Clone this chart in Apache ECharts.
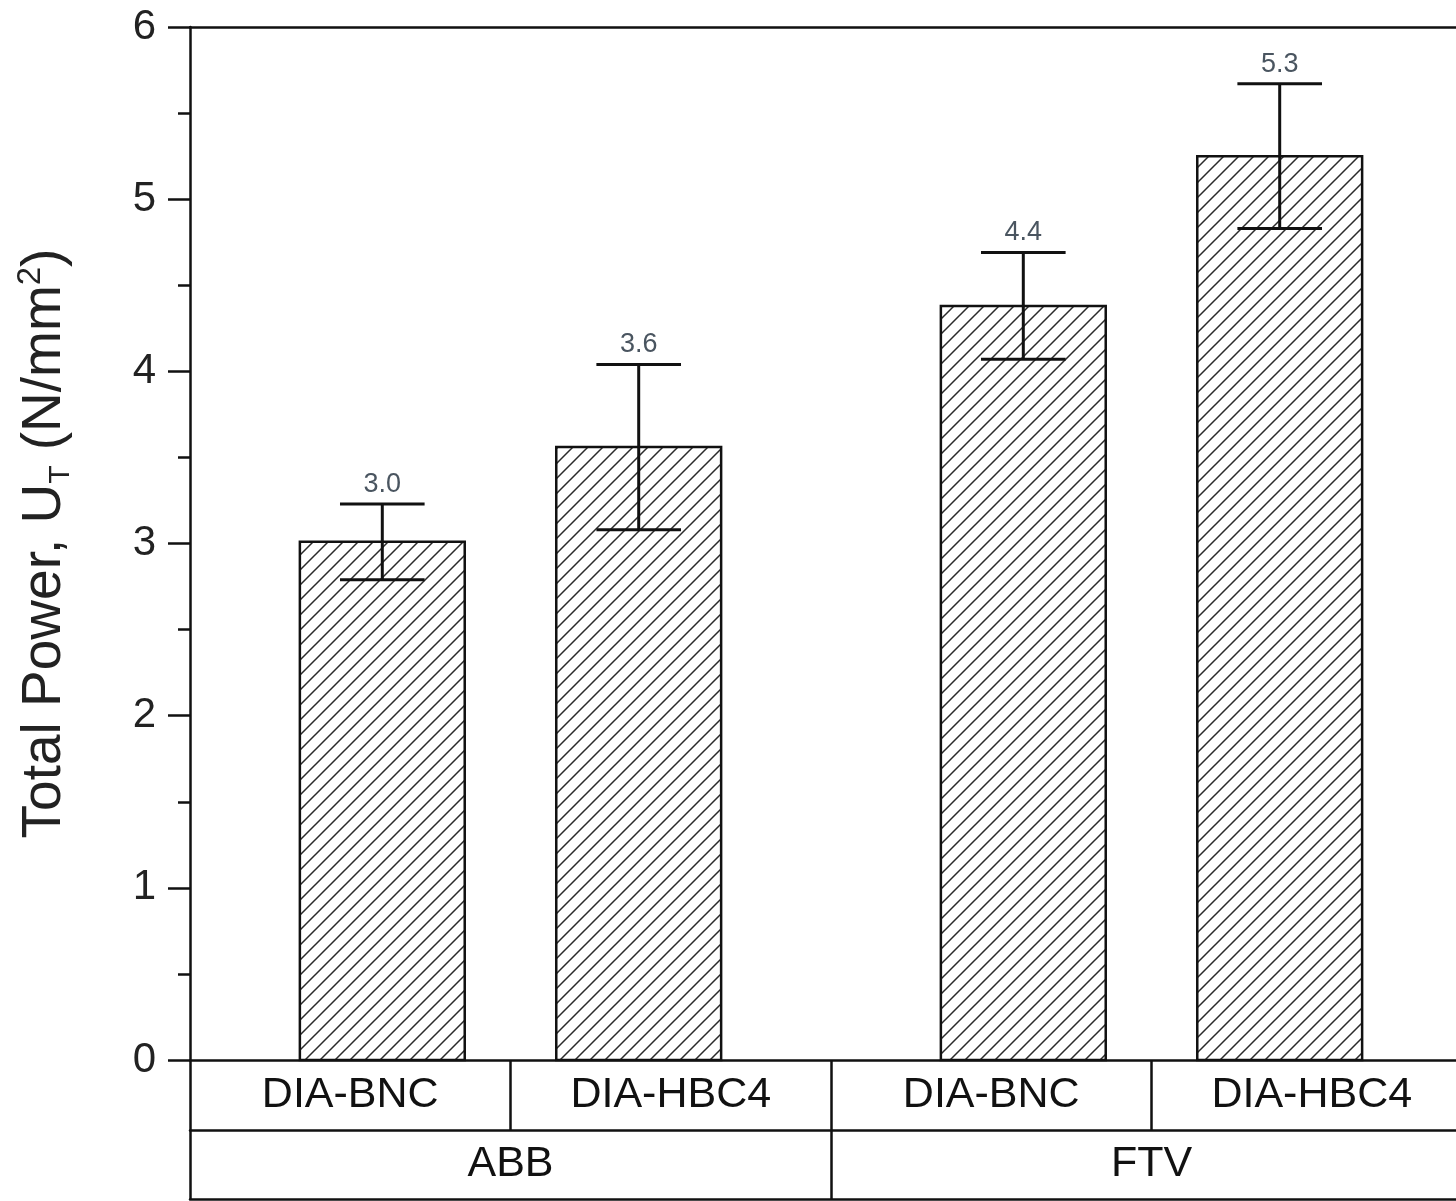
<!DOCTYPE html>
<html>
<head>
<meta charset="utf-8">
<script src="https://cdn.jsdelivr.net/npm/echarts@6/dist/echarts.min.js"></script>
<style>
html,body{margin:0;padding:0;background:#fff;}
#chart{width:1456px;height:1201px;}
</style>
</head>
<body>
<div id="chart"></div>
<script>
// ---- data ----
const subCategories = ['DIA-BNC', 'DIA-HBC4', 'DIA-BNC', 'DIA-HBC4'];
const groupCategories = ['ABB', 'FTV'];
const barPositions = [1, 2, 3.5, 4.5];
const meanValues = [3.01, 3.56, 4.38, 5.25];
const errorValues = [0.22, 0.48, 0.31, 0.42];
const valueLabels = ['3.0', '3.6', '4.4', '5.3'];
const yTickValues = [0, 1, 2, 3, 4, 5, 6];

const FONT = '"Liberation Sans", Arial, Helvetica, sans-serif';
const BAR_W = 0.643;
const CAP_W = 0.33;
const LW = 2.5;

// hatch pattern
const tile = 15;
const pc = document.createElement('canvas');
pc.width = tile; pc.height = tile;
const pctx = pc.getContext('2d');
pctx.fillStyle = '#ffffff';
pctx.fillRect(0, 0, tile, tile);
pctx.strokeStyle = '#2b2b2b';
pctx.lineWidth = 1.5;
pctx.beginPath();
pctx.moveTo(-1, tile + 1); pctx.lineTo(tile + 1, -1);
pctx.moveTo(-2, 2); pctx.lineTo(2, -2);
pctx.moveTo(tile - 2, tile + 2); pctx.lineTo(tile + 2, tile - 2);
pctx.stroke();
const hatch = { image: pc, repeat: 'repeat' };

const barData = barPositions.map((x, i) => [x, meanValues[i]]);
const errData = barPositions.map((x, i) => [x, meanValues[i] - errorValues[i], meanValues[i] + errorValues[i], i]);

const chart = echarts.init(document.getElementById('chart'), null, { renderer: 'canvas' });

const option = {
  backgroundColor: '#ffffff',
  animation: false,
  grid: [
    { left: 190, width: 1282, top: 27, height: 1033, outerBoundsMode: 'none', containLabel: false },
    { left: 190, width: 1282, top: 1060, height: 70, outerBoundsMode: 'none', containLabel: false },
    { left: 190, width: 1282, top: 1130, height: 69, outerBoundsMode: 'none', containLabel: false }
  ],
  xAxis: [
    {
      type: 'value', gridIndex: 0, min: 0.25, max: 5.25, position: 'bottom',
      axisLine: { show: true, onZero: false, lineStyle: { color: '#111', width: LW } },
      axisTick: { show: false }, axisLabel: { show: false }, splitLine: { show: false }
    },
    {
      type: 'value', gridIndex: 0, min: 0.25, max: 5.25, position: 'top',
      axisLine: { show: true, onZero: false, lineStyle: { color: '#111', width: LW } },
      axisTick: { show: false }, axisLabel: { show: false }, splitLine: { show: false }
    },
    {
      type: 'category', gridIndex: 1, data: subCategories, position: 'bottom',
      axisLine: { show: true, lineStyle: { color: '#111', width: LW } },
      axisTick: { show: true, interval: 0, inside: true, length: 70, lineStyle: { color: '#111', width: LW } },
      axisLabel: { inside: true, margin: 35, verticalAlign: 'middle', interval: 0, fontSize: 43, fontFamily: FONT, color: '#111' },
      splitLine: { show: false }
    },
    {
      type: 'category', gridIndex: 2, data: groupCategories, position: 'bottom',
      axisLine: { show: true, lineStyle: { color: '#111', width: LW } },
      axisTick: { show: true, interval: 0, inside: true, length: 69, lineStyle: { color: '#111', width: LW } },
      axisLabel: { inside: true, margin: 35, verticalAlign: 'middle', interval: 0, fontSize: 43, fontFamily: FONT, color: '#111' },
      splitLine: { show: false }
    }
  ],
  yAxis: [
    {
      type: 'value', gridIndex: 0, min: yTickValues[0], max: yTickValues[yTickValues.length - 1], interval: 1,
      axisLine: { show: true, lineStyle: { color: '#111', width: LW } },
      axisTick: { show: true, length: 22, lineStyle: { color: '#111', width: LW } },
      minorTick: { show: true, splitNumber: 2, length: 12, lineStyle: { color: '#111', width: LW } },
      axisLabel: { margin: 34, fontSize: 42, fontFamily: FONT, color: '#222' },
      splitLine: { show: false }, minorSplitLine: { show: false },
      name: '{a|Total Power, U}{sub|T}{a| (N/mm}{sup|2}{a|)}',
      nameLocation: 'middle', nameRotate: 90, nameGap: 114,
      nameTextStyle: {
        fontFamily: FONT, color: '#222', fontSize: 55,
        rich: {
          a: { fontSize: 55, lineHeight: 62, fontFamily: FONT, color: '#222' },
          sub: { fontSize: 30, lineHeight: 22, verticalAlign: 'bottom', fontFamily: FONT, color: '#222' },
          sup: { fontSize: 33, lineHeight: 24, verticalAlign: 'top', fontFamily: FONT, color: '#222' }
        }
      }
    },
    { type: 'value', gridIndex: 1, show: false },
    { type: 'value', gridIndex: 2, show: false }
  ],
  series: [
    {
      type: 'custom', name: 'bars', xAxisIndex: 0, yAxisIndex: 0, data: barData, clip: false,
      renderItem: function (params, api) {
        const x = api.value(0), v = api.value(1);
        const w = api.size([BAR_W, 0])[0];
        const p0 = api.coord([x, 0]);
        const p1 = api.coord([x, v]);
        return {
          type: 'rect',
          shape: { x: p1[0] - w / 2, y: p1[1], width: w, height: p0[1] - p1[1] },
          style: { fill: hatch, stroke: '#111', lineWidth: LW }
        };
      }
    },
    {
      type: 'custom', name: 'errors', xAxisIndex: 0, yAxisIndex: 0, data: errData, clip: false, z: 3,
      renderItem: function (params, api) {
        const x = api.value(0), lo = api.value(1), hi = api.value(2), idx = api.value(3);
        const cw = api.size([CAP_W, 0])[0];
        const pl = api.coord([x, lo]);
        const ph = api.coord([x, hi]);
        const ls = { stroke: '#111', lineWidth: 3 };
        return {
          type: 'group',
          children: [
            { type: 'line', shape: { x1: pl[0], y1: pl[1], x2: ph[0], y2: ph[1] }, style: ls },
            { type: 'line', shape: { x1: ph[0] - cw / 2, y1: ph[1], x2: ph[0] + cw / 2, y2: ph[1] }, style: ls },
            { type: 'line', shape: { x1: pl[0] - cw / 2, y1: pl[1], x2: pl[0] + cw / 2, y2: pl[1] }, style: ls },
            {
              type: 'text',
              style: {
                text: valueLabels[idx], x: ph[0], y: ph[1] - 6,
                align: 'center', verticalAlign: 'bottom',
                fontSize: 27, fontFamily: FONT, fill: '#4a5560'
              }
            }
          ]
        };
      }
    }
  ]
};
chart.setOption(option);
</script>
</body>
</html>
